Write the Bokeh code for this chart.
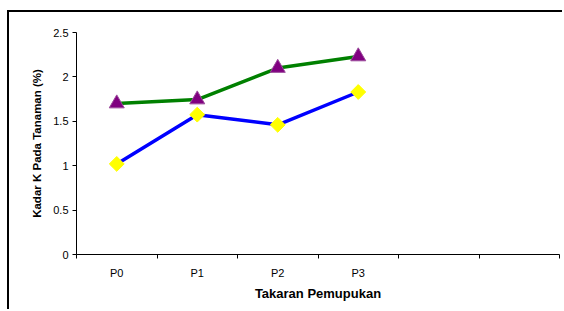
from bokeh.plotting import figure
from bokeh.models import FixedTicker, Range1d
from bokeh.embed import file_html
from bokeh.resources import INLINE

categories = ["P0", "P1", "P2", "P3"]
x_positions = [0.5, 1.5, 2.5, 3.5]
category_bounds = [0, 1, 2, 3, 4, 5, 6]
series_triangle = [1.70, 1.745, 2.10, 2.23]
series_diamond = [1.02, 1.575, 1.46, 1.83]
y_ticks = [0, 0.5, 1, 1.5, 2, 2.5]
y_tick_labels = ["0", "0.5", "1", "1.5", "2", "2.5"]

FONT = "Liberation Sans"

p = figure(width=555, height=299, output_backend="svg", toolbar_location=None,
           x_range=Range1d(0, 6), y_range=Range1d(0, 2.5),
           min_border_left=67, min_border_right=5, min_border_top=20, min_border_bottom=57)
# outer chart-area frame: only its left and top edges fall inside the window
p.styles = {"border-left": "2px solid #000000", "border-top": "2px solid #000000",
            "margin-left": "7px", "margin-top": "10px"}
p.outline_line_color = None
p.xgrid.grid_line_color = None
p.ygrid.grid_line_color = None
p.background_fill_color = "white"
p.border_fill_color = "white"

p.xaxis.ticker = FixedTicker(ticks=x_positions, minor_ticks=category_bounds)
p.xaxis.major_label_overrides = {x: c for x, c in zip(x_positions, categories)}
p.xaxis.major_tick_out = 0
p.xaxis.major_tick_in = 0
p.xaxis.minor_tick_out = 4
p.xaxis.minor_tick_in = 0
p.xaxis.minor_tick_line_color = "#000000"
p.xaxis.major_label_standoff = 8
p.xaxis.axis_label = "Takaran Pemupukan"
p.xaxis.axis_label_standoff = 4

p.yaxis.ticker = FixedTicker(ticks=y_ticks, minor_ticks=[])
p.yaxis.major_label_overrides = {t: l for t, l in zip(y_ticks, y_tick_labels)}
p.yaxis.major_tick_out = 4
p.yaxis.major_tick_in = 0
p.yaxis.major_label_standoff = 4
p.yaxis.axis_label = "Kadar K Pada Tanaman (%)"
p.yaxis.axis_label_standoff = 7

for ax in (p.xaxis, p.yaxis):
    ax.major_tick_line_color = "#000000"
    ax.axis_line_color = "#000000"
    ax.major_label_text_font = FONT
    ax.major_label_text_font_size = "11px"
    ax.major_label_text_color = "#000000"
    ax.axis_label_text_font = FONT
    ax.axis_label_text_font_style = "bold"
    ax.axis_label_text_color = "#000000"
p.xaxis.axis_label_text_font_size = "13px"
p.yaxis.axis_label_text_font_size = "11.5px"

p.line(x_positions, series_triangle, line_color="#008000", line_width=3.5)
p.line(x_positions, series_diamond, line_color="#0000FF", line_width=3.5)
p.scatter(x_positions, series_triangle, marker="triangle", size=15,
          fill_color="#800080", line_color="#9B4A9B", line_width=1)
p.scatter(x_positions, series_diamond, marker="square", angle=0.785398, size=10.5,
          fill_color="#FFFF00", line_color="#FFFF00", line_width=1)

open("out.html", "w").write(file_html(p, INLINE))
